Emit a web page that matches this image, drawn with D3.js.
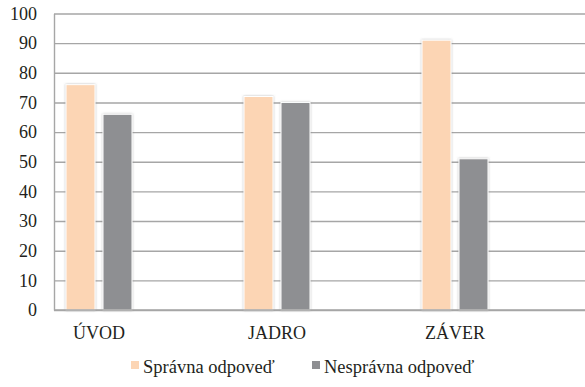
<!DOCTYPE html>
<html>
<head>
<meta charset="utf-8">
<script src="https://cdn.jsdelivr.net/npm/d3@7"></script>
<style>
  html, body { margin: 0; padding: 0; background: #fff; }
  svg { display: block; }
</style>
</head>
<body>
<svg id="chart" width="585" height="387"></svg>
<script>
// Data
const categories = ["ÚVOD", "JADRO", "ZÁVER"];
const seriesNames = ["Správna odpoveď", "Nesprávna odpoveď"];
const correct = [76, 72, 91];
const incorrect = [66, 70, 51];
const yTicks = [0, 10, 20, 30, 40, 50, 60, 70, 80, 90, 100];
const colors = ["#fcd5b4", "#8e8f92"];

// Pick the first installed Times-like face
function pickSerif() {
  const ctx = document.createElement("canvas").getContext("2d");
  const sample = "ÚVOD JADRO Správna odpoveď 0123456789";
  const candidates = ["Liberation Serif", "Tinos", "Times New Roman", "DejaVu Serif", "Noto Serif", "FreeSerif", "Times"];
  for (const base of ["monospace", "sans-serif"]) {
    ctx.font = `18px ${base}`;
    const w0 = ctx.measureText(sample).width;
    for (const c of candidates) {
      ctx.font = `18px "${c}", ${base}`;
      if (Math.abs(ctx.measureText(sample).width - w0) > 0.5) return `"${c}", serif`;
    }
  }
  return "serif";
}
const serif = pickSerif();
const ink = "#231f20";

const svg = d3.select("#chart");
const plot = { left: 54, right: 588, top: 13.5, bottom: 310 };

const y = d3.scaleLinear().domain([0, 100]).range([plot.bottom, plot.top]);
const x0 = d3.scaleBand().domain(categories).range([plot.left, plot.right]).paddingInner(0);
const x1 = d3.scaleBand().domain(seriesNames).range([12, 78]).paddingInner(8 / 37).paddingOuter(0);

const defs = svg.append("defs");
const f = defs.append("filter").attr("id", "glow")
  .attr("x", "-20%").attr("y", "-5%").attr("width", "140%").attr("height", "110%");
f.append("feDropShadow").attr("dx", 0).attr("dy", 0).attr("stdDeviation", 1.3)
  .attr("flood-color", "#7a7a7a").attr("flood-opacity", 0.55);

// Horizontal gridlines
const grid = svg.append("g")
  .attr("transform", `translate(${plot.left},0)`)
  .call(d3.axisLeft(y).tickValues(yTicks).tickSize(-(plot.right - plot.left)).tickFormat(""));
grid.select(".domain").remove();
grid.selectAll(".tick line").attr("stroke", "#a6a6a6").attr("stroke-width", 1.4);

// Y axis labels
const yAxis = svg.append("g")
  .attr("transform", `translate(${plot.left},0)`)
  .call(d3.axisLeft(y).tickValues(yTicks).tickSize(0).tickPadding(17));
yAxis.attr("font-family", serif).attr("font-size", 18);
yAxis.select(".domain").attr("stroke", "#a6a6a6").attr("stroke-width", 1.4);
yAxis.selectAll(".tick text").attr("fill", ink);

// Bars
const rows = categories.map((c, i) => ({ cat: c, vals: [correct[i], incorrect[i]] }));
const groups = svg.append("g").selectAll("g").data(rows).join("g")
  .attr("transform", d => `translate(${x0(d.cat)},0)`);
groups.selectAll("rect")
  .data(d => d.vals.map((v, k) => ({ name: seriesNames[k], v, k })))
  .join("rect")
  .attr("x", d => x1(d.name))
  .attr("width", x1.bandwidth())
  .attr("y", d => y(d.v))
  .attr("height", d => y(0) - y(d.v))
  .attr("fill", d => colors[d.k])
  .attr("stroke", "#ffffff")
  .attr("stroke-width", 1)
  .attr("filter", "url(#glow)");

// Baseline
svg.append("line")
  .attr("x1", plot.left).attr("x2", plot.right)
  .attr("y1", y(0)).attr("y2", y(0))
  .attr("stroke", "#a6a6a6").attr("stroke-width", 1.4);

// Category labels centred under each bar pair
svg.append("g").attr("font-family", serif).attr("font-size", 18).attr("fill", ink)
  .selectAll("text").data(categories).join("text")
  .attr("x", c => x0(c) + (x1.range()[0] + x1.range()[1]) / 2)
  .attr("y", 339)
  .attr("text-anchor", "middle")
  .text(c => c);

// Legend
const legendItems = [
  { name: seriesNames[0], color: colors[0], x: 131 },
  { name: seriesNames[1], color: colors[1], x: 312 }
];
const lg = svg.append("g").attr("font-family", serif).attr("font-size", 18.5).attr("fill", ink)
  .selectAll("g").data(legendItems).join("g")
  .attr("transform", d => `translate(${d.x},0)`);
lg.append("rect").attr("x", 0).attr("y", 361).attr("width", 8).attr("height", 8)
  .attr("fill", d => d.color);
lg.append("text").attr("x", 12).attr("y", 373).text(d => d.name);
</script>
</body>
</html>
